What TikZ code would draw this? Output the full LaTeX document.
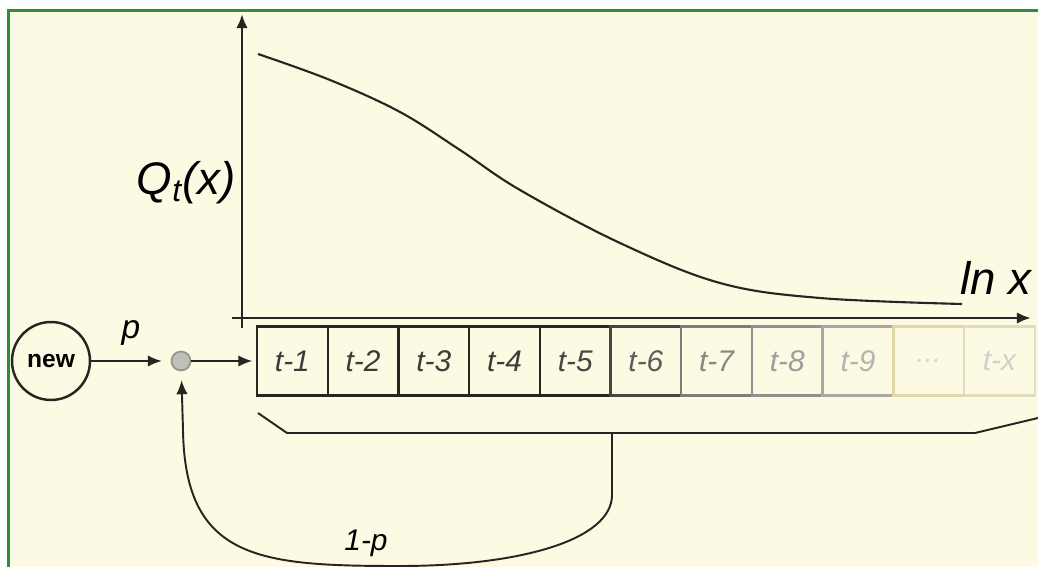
\documentclass[tikz,border=0pt]{standalone}
\usepackage{fontspec}
\setmainfont{Liberation Sans}
\usepackage{tikz}
\usetikzlibrary{arrows.meta}
\definecolor{paper}{RGB}{252,250,226}
\definecolor{frame}{RGB}{48,140,58}
\definecolor{ink}{RGB}{40,36,34}
\tikzset{
  cell/.style={draw, line width=1.4pt, minimum width=1.414cm, minimum height=1.38cm,
    inner sep=0pt, font=\fontsize{17}{19}\selectfont\itshape},
  tip/.style={-{Latex[length=8pt,width=6.5pt]}},
}
\begin{document}
\begin{tikzpicture}[x=0.02cm, y=-0.02cm, line width=1.1pt, draw=ink]
        \useasboundingbox (0,0) rectangle (1038,567);
        \fill[white] (0,0) rectangle (1038,567);
        \fill[paper] (10,12) rectangle (1038,567);
        \draw[frame, line width=2pt] (8.5,567) -- (8.5,10.5) -- (1038,10.5);
        % axes and curve
        \coordinate (O) at (242,318);
        \coordinate (Yb) at (242,328);
        \coordinate (Yt) at (242,14);
        \coordinate (Xb) at (232,318);
        \coordinate (Xe) at (1031,318);
        \draw[tip, line width=1.6pt] (Yb) to (Yt);
        \draw[tip, line width=1.6pt] (Xb) to (Xe);
        \node (Q) at (186,183) {\fontsize{26}{28}\selectfont\itshape Q\textsubscript{t}(x)};
        \node (L) at (996,278) {\fontsize{26}{28}\selectfont\itshape ln x};
        \draw[line width=1.2pt] plot[smooth, tension=0.6] coordinates {(258,54) (330,80) (400,112)
          (460,150) (520,190) (620,243) (720,283) (820,298) (962,304)};
        % source and junction
        \node[draw, circle, line width=1.4pt, minimum size=1.56cm, inner sep=0pt,
          font=\fontsize{14}{15}\selectfont\bfseries] (new) at (51,361) {new};
        \node[circle, draw={rgb,255:red,150;green,150;blue,140}, fill={rgb,255:red,190;green,192;blue,185},
          line width=1pt, minimum size=0.38cm, inner sep=0pt] (J) at (181,361) {};
        % memory cells
        \node[cell, draw=ink, text=ink!90] (C1) at (292.4,361) {t-1};
        \node[cell, draw=ink, text=ink!90] (C2) at (363.1,361) {t-2};
        \node[cell, draw=ink, text=ink!90] (C3) at (433.8,361) {t-3};
        \node[cell, draw=ink, text=ink!90] (C4) at (504.5,361) {t-4};
        \node[cell, draw=ink, text=ink!85] (C5) at (575.2,361) {t-5};
        \node[cell, draw=ink!85, text=ink!75] (C6) at (645.9,361) {t-6};
        \node[cell, draw=ink!60, text=ink!55] (C7) at (716.6,361) {t-7};
        \node[cell, draw=ink!50, text=ink!45] (C8) at (787.3,361) {t-8};
        \node[cell, draw=ink!40, text=ink!35] (C9) at (858,361) {t-9};
        \node[cell, draw={rgb,255:red,222;green,216;blue,170}, text=ink!18] (C10) at (928.7,361) {...};
        \node[cell, draw={rgb,255:red,225;green,220;blue,185}, text=ink!22] (C11) at (999.4,361) {t-x};
        \draw[tip, shorten >=5pt] (new) to node[above=5pt, font=\fontsize{19}{21}\selectfont\itshape] (p) {p} (J);
        \draw[tip, shorten >=2pt] (J) to (C1);
        % bracket and feedback
        \coordinate (B0) at (258,413);
        \coordinate (B1) at (287,433);
        \coordinate (Bk) at (612,433);
        \coordinate (B2) at (975,433);
        \coordinate (B3) at (1038,418);
        \draw (B0) -- (B1) -- (B2) -- (B3);
        \draw[tip, shorten >=5pt] (Bk) -- (612,495) .. controls (612,540) and (520,566) .. (400,566)
          .. controls (260,566) and (185,560) .. (183,430) -- (J);
        \node[font=\fontsize{17}{19}\selectfont\itshape] (q) at (366,543) {1-p};
      \end{tikzpicture}
\end{document}
